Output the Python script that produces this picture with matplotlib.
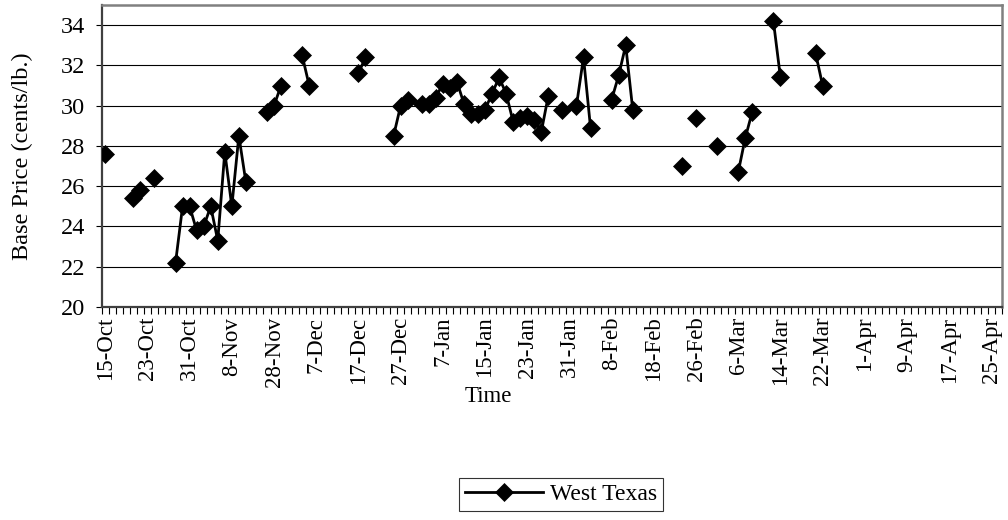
import numpy as np
import matplotlib
matplotlib.use("Agg")
import matplotlib.pyplot as plt
from matplotlib.ticker import FixedLocator

plt.rcParams['font.family'] = ['Liberation Serif', 'DejaVu Serif']

# Category axis: one category per data row (128 rows), labels every 6 rows
n_categories = 128
tick_labels = ['15-Oct', '23-Oct', '31-Oct', '8-Nov', '28-Nov', '7-Dec', '17-Dec',
               '27-Dec', '7-Jan', '15-Jan', '23-Jan', '31-Jan', '8-Feb', '18-Feb',
               '26-Feb', '6-Mar', '14-Mar', '22-Mar', '1-Apr', '9-Apr', '17-Apr', '25-Apr']
label_every = 6

# Row index of each observed price, and the price (cents/lb.)
row_index = [0, 4, 5, 7, 10, 11, 12, 13, 14, 15, 16, 17, 18, 19, 20, 23, 24, 25, 28, 29,
             36, 37, 41, 42, 43, 45, 46, 47, 48, 49, 50, 51, 52, 53, 54, 55, 56, 57, 58,
             59, 60, 61, 62, 63, 65, 67, 68, 69, 72, 73, 74, 75, 82, 84, 87, 90, 91, 92,
             95, 96, 101, 102]
west_texas = [27.6, 25.4, 25.8, 26.4, 22.2, 25.0, 25.0, 23.8, 24.0, 25.0, 23.3, 27.7, 25.0,
              28.5, 26.2, 29.7, 30.0, 31.0, 32.5, 31.0,
              31.6, 32.4, 28.5, 30.0, 30.3, 30.1, 30.1, 30.4, 31.1, 30.9, 31.2, 30.1, 29.6,
              29.6, 29.8, 30.6, 31.4, 30.6, 29.2,
              29.4, 29.5, 29.3, 28.7, 30.5, 29.8, 30.0, 32.4, 28.9, 30.3, 31.5, 33.0, 29.8,
              27.0, 29.4, 28.0, 26.7, 28.4, 29.7,
              34.2, 31.4, 32.6, 31.0]

series = np.full(n_categories, np.nan)
series[row_index] = west_texas
x = np.arange(n_categories)

fig = plt.figure(figsize=(10.08, 5.2), dpi=100)
ax = fig.add_axes([101.7 / 1008, 1 - 307 / 520, (1002 - 101.7) / 1008, (307 - 5) / 520])

ax.plot(x, series, color='black', lw=2.0, marker='D', ms=9.3,
        markerfacecolor='black', markeredgecolor='black', markeredgewidth=0.5,
        label='West Texas', zorder=3)

ax.set_xlim(-0.5, n_categories - 0.5)
ax.set_ylim(20, 35)
ax.set_yticks(np.arange(20, 35, 2))
ax.yaxis.grid(True, color='black', lw=0.8)
ax.set_axisbelow(True)

label_pos = np.arange(0, len(tick_labels) * label_every, label_every)
ax.set_xticks(label_pos)
ax.set_xticklabels(tick_labels, rotation=90, fontsize=16.5)
ax.xaxis.set_minor_locator(FixedLocator(np.arange(n_categories + 1) - 0.5))
ax.tick_params(axis='x', which='major', length=0, pad=7)
ax.tick_params(axis='x', which='minor', length=5, width=0.8, color='black', direction='out')
ax.tick_params(axis='y', which='major', length=4, width=0.8, labelsize=17.5, pad=8)

for side in ['top', 'right']:
    ax.spines[side].set_color('#808080')
    ax.spines[side].set_linewidth(1.8)
for side in ['left', 'bottom']:
    ax.spines[side].set_color('#404040')
    ax.spines[side].set_linewidth(1.6)

ax.set_ylabel('Base Price (cents/lb.)', fontsize=17.5)
ax.yaxis.set_label_coords((33 - 101.7) / 900.3, 0.5)
fig.text(488 / 1008, 1 - 397 / 520, 'Time', ha='center', va='center', fontsize=16.5)

leg = fig.legend(loc='center', bbox_to_anchor=(561 / 1008, 1 - 494.5 / 520),
                 fontsize=17, frameon=True, fancybox=False, shadow=False,
                 handlelength=3.3, handletextpad=0.3, borderpad=0.25, borderaxespad=0)
leg.get_frame().set_edgecolor('black')
leg.get_frame().set_linewidth(0.8)

fig.savefig('out.png', dpi=100)
